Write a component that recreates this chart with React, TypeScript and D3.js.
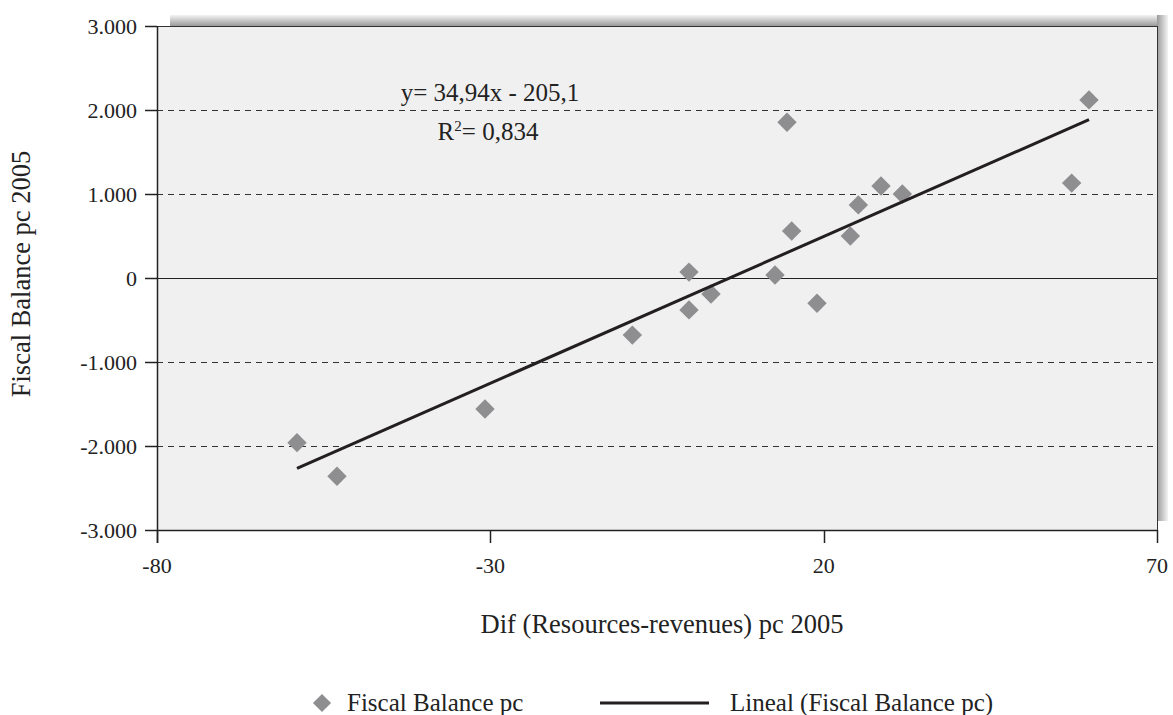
import * as d3 from "d3";

// diferencia recursos-ingresos pc 2005 vs balance fiscal pc
const difRecursos = [-59, -53, -30.8, -8.7, -0.2, -0.2, 3.1, 12.7, 14.5, 15.2, 19, 24, 25.2, 28.6, 31.8, 57.2, 59.8];
const balanceFiscal = [-1960, -2360, -1560, -680, 70, -380, -190, 35, 1855, 560, -300, 500, 870, 1095, 1000, 1130, 2120];

const pendiente = 34.94;
const intercepto = -205.1;
const tramoRecta = [-59, 59.8];

const ticksX = [-80, -30, 20, 70];
const ticksY = [-3000, -2000, -1000, 0, 1000, 2000, 3000];

const W = 1173;
const H = 715;
const margin = { top: 26, right: 16, bottom: 185, left: 157 };
const fuente = "'Liberation Serif', 'Times New Roman', serif";

const formatoY = (v: number) => d3.format(",")(v).replace(/,/g, ".").replace("−", "-");

export default function App() {
  const x = d3.scaleLinear().domain([-80, 70]).range([margin.left, W - margin.right]);
  const y = d3.scaleLinear().domain([-3000, 3000]).range([H - margin.bottom, margin.top]);
  const x0 = x(-80), x1 = x(70), y0 = y(-3000), y1 = y(3000);
  const px = (v: number) => Math.round(v) + 0.5; // lineas nitidas

  const recta = d3
    .line<number>()
    .x((d) => x(d))
    .y((d) => y(pendiente * d + intercepto));

  const diamante = d3.symbol(d3.symbolDiamond2, 240)()!;
  const diamanteLeyenda = d3.symbol(d3.symbolDiamond2, 210)()!;

  return (
    <svg width={W} height={H} style={{ position: "absolute", left: 0, top: 0, background: "#fff" }} fontFamily={fuente}>
      <defs>
        <linearGradient id="sombraTop" x1="0" y1="0" x2="0" y2="1">
          <stop offset="0" stopColor="#f4f4f4" />
          <stop offset="1" stopColor="#9a9a9a" />
        </linearGradient>
        <linearGradient id="sombraDer" x1="0" y1="0" x2="1" y2="0">
          <stop offset="0" stopColor="#9a9a9a" />
          <stop offset="1" stopColor="#f4f4f4" />
        </linearGradient>
      </defs>
      {/* sombra del area */}
      <rect x={x0 + 13} y={y1 - 11} width={x1 - x0 - 2} height={11} fill="url(#sombraTop)" />
      <rect x={x1} y={y1 - 11} width={11} height={y0 - y1 + 2} fill="url(#sombraDer)" />
      <rect x={px(x0)} y={px(y1)} width={Math.round(x1 - x0)} height={Math.round(y0 - y1)} fill="#f0f0f0" stroke="#333" strokeWidth={1} />

      {/* grilla */}
      {ticksY.filter((t) => t !== 0 && Math.abs(t) !== 3000).map((t) => (
        <line key={t} x1={x0} x2={x1} y1={px(y(t))} y2={px(y(t))} stroke="#333" strokeWidth={1} strokeDasharray="6,5" />
      ))}
      <line x1={x0} x2={x1} y1={px(y(0))} y2={px(y(0))} stroke="#222" strokeWidth={1} />

      {/* ejes */}
      <line x1={px(x0)} x2={px(x0)} y1={y1} y2={y0 + 13} stroke="#222" strokeWidth={1.5} />
      <line x1={x0} x2={x1} y1={px(y0)} y2={px(y0)} stroke="#222" strokeWidth={1.5} />
      {ticksY.map((t) => (
        <g key={t}>
          <line x1={x0 - 12} x2={x0} y1={px(y(t))} y2={px(y(t))} stroke="#222" strokeWidth={1.5} />
          <text x={x0 - 20} y={y(t)} dy="0.35em" textAnchor="end" fontSize={22} fill="#222">
            {formatoY(t)}
          </text>
        </g>
      ))}
      {ticksX.map((t) => (
        <g key={t}>
          <line x1={px(x(t))} x2={px(x(t))} y1={y0} y2={y0 + 13} stroke="#222" strokeWidth={1.5} />
          <text x={x(t)} y={y0 + 43} textAnchor="middle" fontSize={22} fill="#222">
            {t}
          </text>
        </g>
      ))}

      {/* puntos */}
      {difRecursos.map((d, i) => (
        <path key={i} d={diamante} transform={`translate(${x(d)},${y(balanceFiscal[i])})`} fill="#8e8e90" />
      ))}

      {/* recta de regresion */}
      <path d={recta(tramoRecta)!} fill="none" stroke="#231f20" strokeWidth={3} />

      {/* ecuacion */}
      <text x={490} y={101} textAnchor="middle" fontSize={25} fill="#222">
        y= 34,94x - 205,1
      </text>
      <text x={488} y={140} textAnchor="middle" fontSize={25} fill="#222">
        R<tspan dy={-9} fontSize={15}>2</tspan>
        <tspan dy={9}>= 0,834</tspan>
      </text>

      {/* titulos */}
      <text x={(x0 + x1) / 2 + 5} y={633} textAnchor="middle" fontSize={26.5} fill="#222">
        Dif (Resources-revenues) pc 2005
      </text>
      <text transform={`translate(30,${(y0 + y1) / 2 - 4}) rotate(-90)`} textAnchor="middle" fontSize={26.5} fill="#222">
        Fiscal Balance pc 2005
      </text>

      {/* leyenda */}
      <path d={diamanteLeyenda} transform="translate(322,703)" fill="#8e8e90" />
      <text x={347} y={711} fontSize={25} fill="#222">Fiscal Balance pc</text>
      <line x1={600} x2={709} y1={703} y2={703} stroke="#231f20" strokeWidth={3} />
      <text x={730} y={711} fontSize={25} fill="#222">Lineal (Fiscal Balance pc)</text>
    </svg>
  );
}
